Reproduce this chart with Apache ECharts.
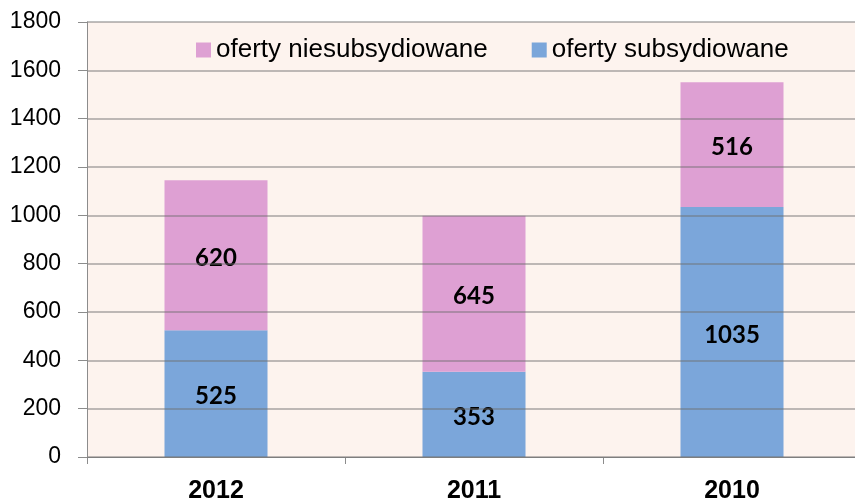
<!DOCTYPE html>
<html>
<head>
<meta charset="utf-8">
<script src="https://cdn.jsdelivr.net/npm/echarts@6/dist/echarts.min.js"></script>
<style>html,body{margin:0;padding:0;background:#fff;overflow:hidden;width:855px;height:504px;}#c{width:861px;height:504px;}</style>
</head>
<body>
<div id="c"></div>
<script>
const categories = ['2012', '2011', '2010'];
const subsydiowane = [525, 353, 1035];
const niesubsydiowane = [620, 645, 516];
const yTicks = [0, 200, 400, 600, 800, 1000, 1200, 1400, 1600, 1800];

const chart = echarts.init(document.getElementById('c'), null, {renderer: 'canvas'});
const labelStyle = {
  show: true, position: 'inside', color: '#000', fontWeight: 'bold', offset: [0, 3],
  fontSize: 24, fontFamily: 'Lato, "DejaVu Sans", sans-serif'
};
chart.setOption({
  animation: false,
  backgroundColor: '#ffffff',
  grid: {
    left: 87, right: 0, top: 22, bottom: 45,
    show: true, backgroundColor: '#fdf3ee', borderWidth: 0
  },
  legend: {
    top: 32, left: 191,
    itemWidth: 15, itemHeight: 15, itemGap: 44,
    icon: 'rect',
    textStyle: {fontSize: 26, color: '#000', fontFamily: '"Liberation Sans", Arial, sans-serif'},
    data: ['oferty niesubsydiowane', 'oferty subsydiowane']
  },
  xAxis: {
    type: 'category',
    data: categories,
    axisLine: {lineStyle: {color: '#8c8c8c', width: 1}},
    axisTick: {show: true, length: 7, lineStyle: {color: '#8c8c8c'}},
    axisLabel: {fontSize: 25, fontWeight: 'bold', color: '#000', margin: 22,
      fontFamily: '"Liberation Sans", Arial, sans-serif'}
  },
  yAxis: {
    type: 'value',
    min: 0, max: 1800, interval: 200,
    z: 3,
    axisLine: {show: true, lineStyle: {color: '#8c8c8c', width: 1}},
    axisTick: {show: true, length: 9, lineStyle: {color: '#8c8c8c'}},
    splitLine: {show: true, lineStyle: {color: 'rgba(110,110,110,0.6)', width: 1.5}},
    axisLabel: {fontSize: 23, color: '#000', margin: 26,
      fontFamily: '"Liberation Sans", Arial, sans-serif',
      formatter: function (v) { return yTicks.indexOf(v) >= 0 ? String(v) : ''; }}
  },
  series: [
    {
      name: 'oferty subsydiowane', type: 'bar', stack: 'a', barWidth: 103,
      itemStyle: {color: '#7ba6da'},
      label: labelStyle,
      data: subsydiowane
    },
    {
      name: 'oferty niesubsydiowane', type: 'bar', stack: 'a', barWidth: 103,
      itemStyle: {color: '#dea0d3'},
      label: labelStyle,
      data: niesubsydiowane
    }
  ]
});
</script>
</body>
</html>
